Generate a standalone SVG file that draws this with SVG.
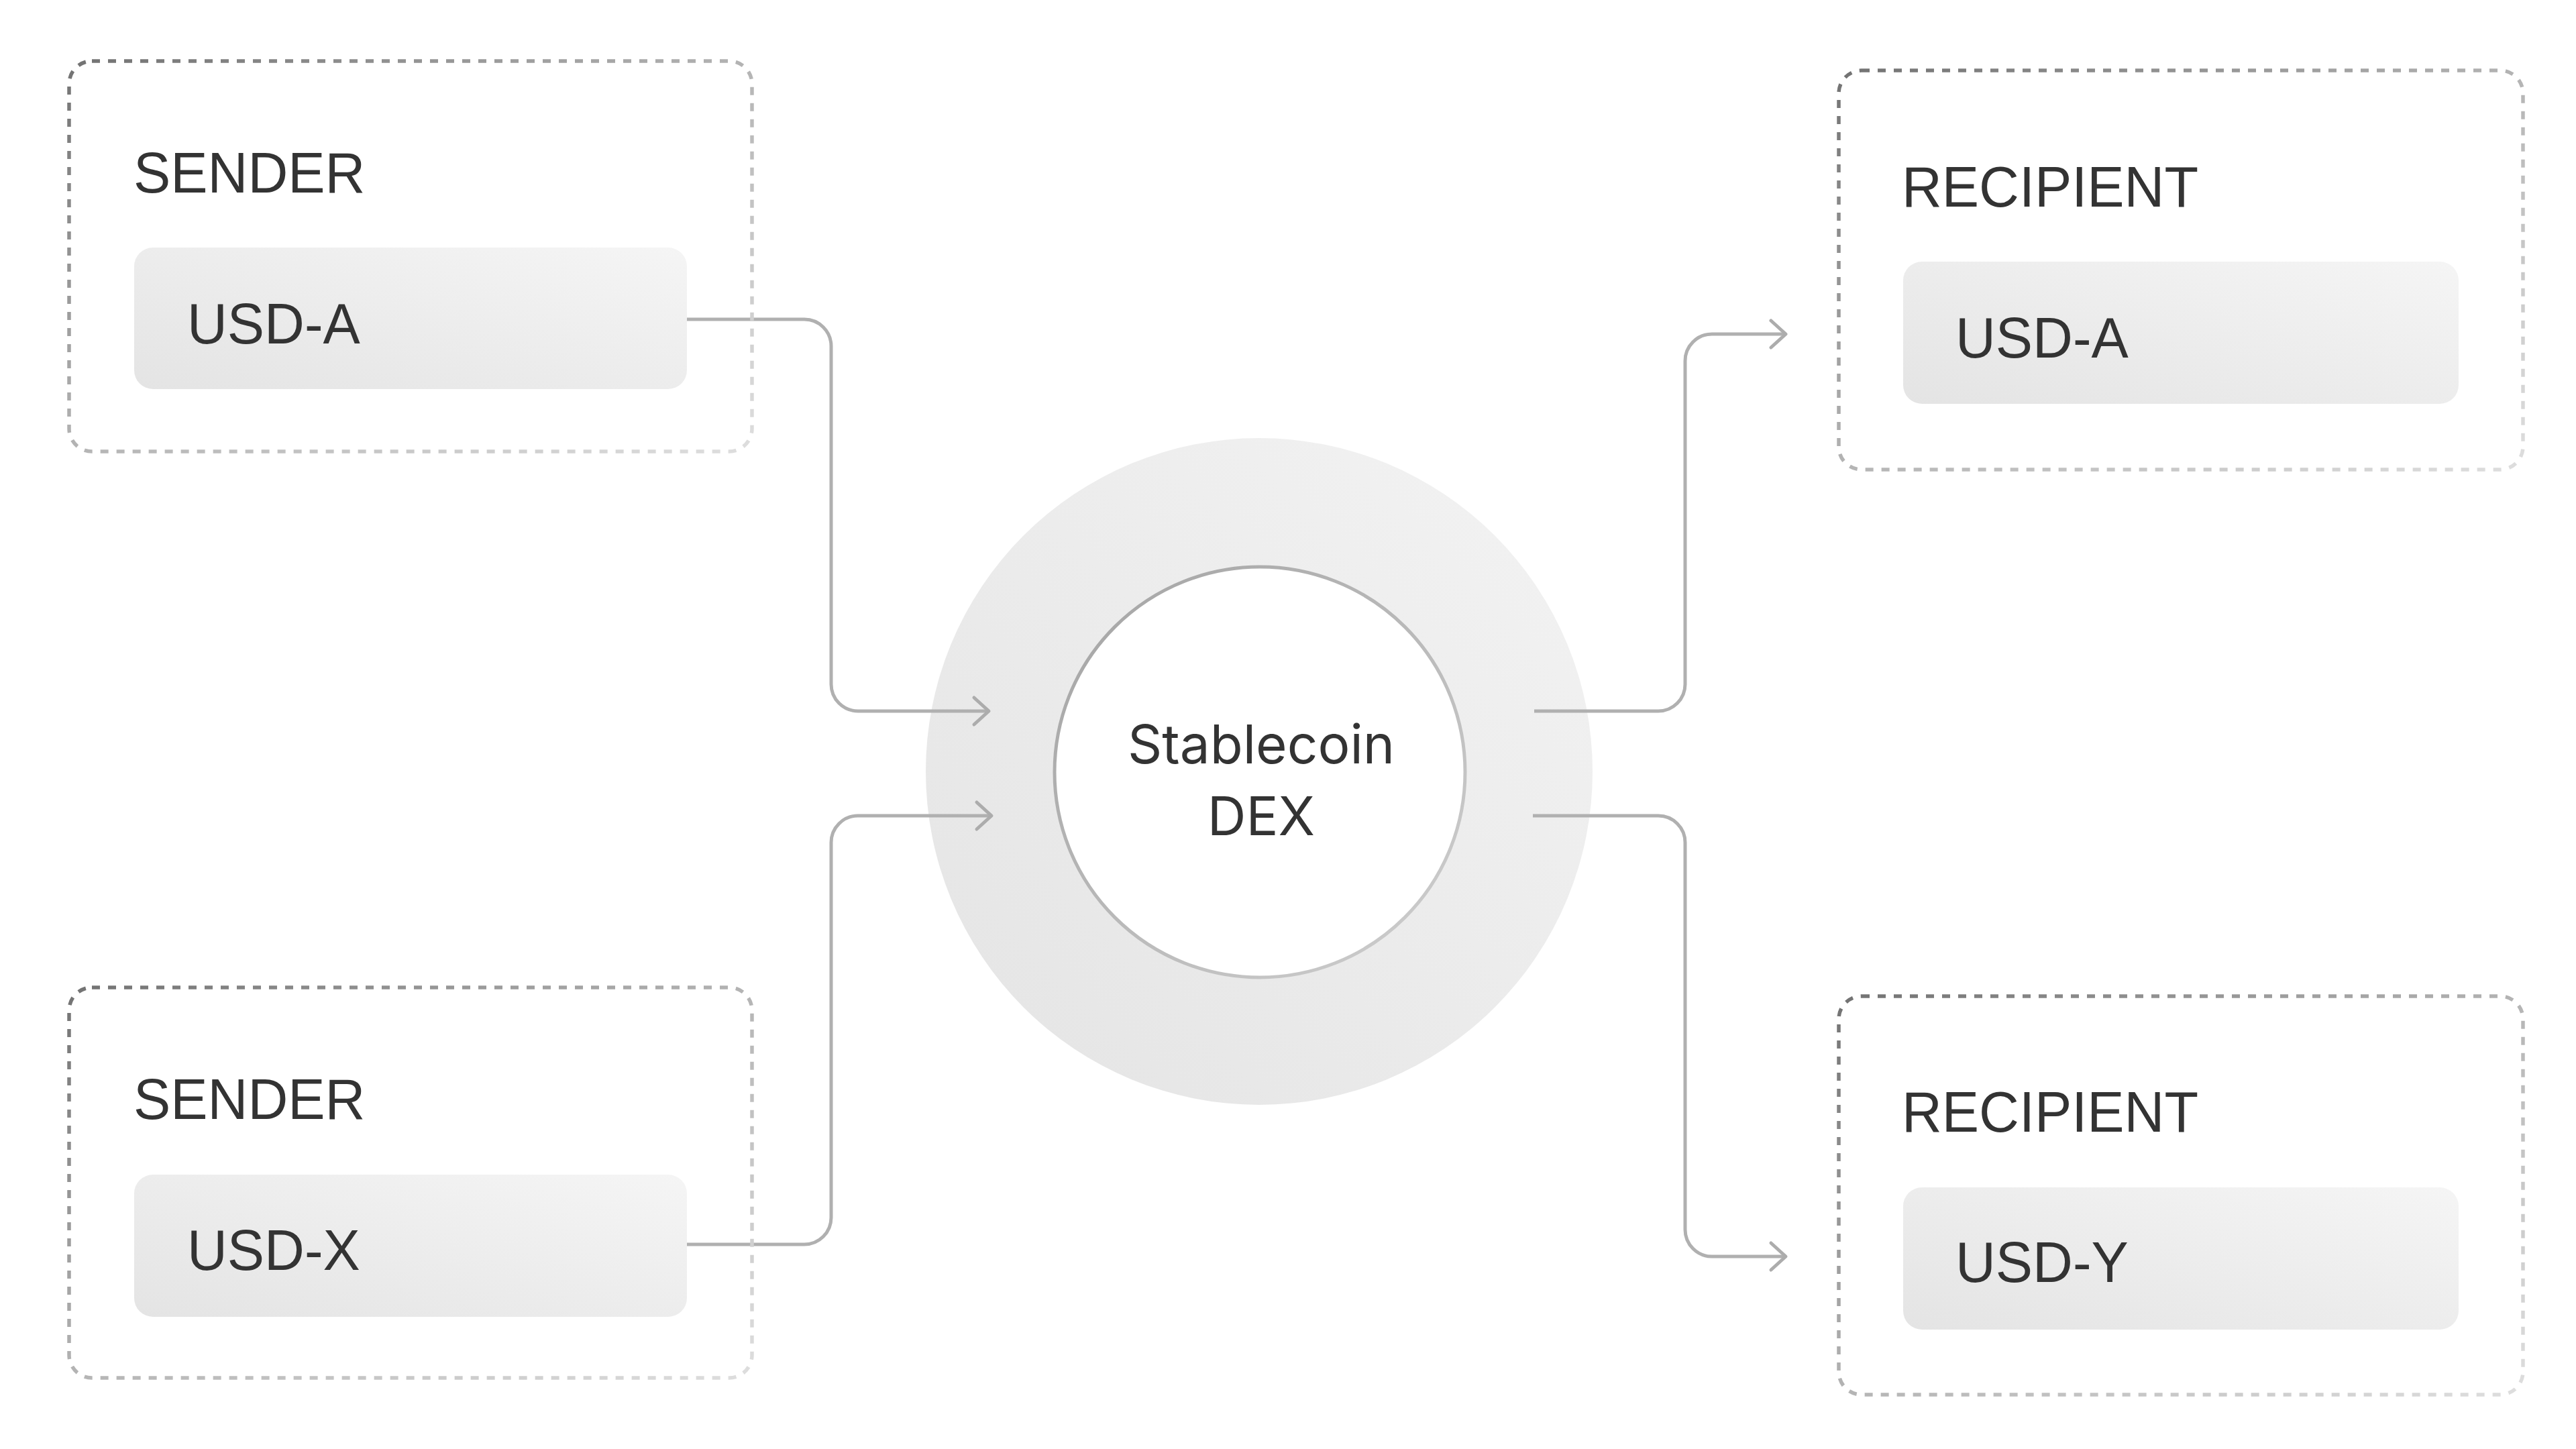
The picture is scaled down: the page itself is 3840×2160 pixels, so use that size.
<svg xmlns="http://www.w3.org/2000/svg" width="3840" height="2160" viewBox="0 0 3840 2160">
<defs>
<linearGradient id="dash" x1="0" y1="0" x2="1" y2="1">
<stop offset="0" stop-color="#727272"/>
<stop offset="0.5" stop-color="#b4b4b4"/>
<stop offset="1" stop-color="#dedede"/>
</linearGradient>
<linearGradient id="pill" x1="0" y1="1" x2="1" y2="0">
<stop offset="0" stop-color="#e4e4e4"/>
<stop offset="1" stop-color="#f5f5f5"/>
</linearGradient>
<linearGradient id="ring" x1="0" y1="1" x2="1" y2="0">
<stop offset="0" stop-color="#e4e4e4"/>
<stop offset="1" stop-color="#f3f3f3"/>
</linearGradient>
<linearGradient id="ringStroke" x1="0" y1="0" x2="1" y2="1">
<stop offset="0" stop-color="#a3a3a3"/>
<stop offset="1" stop-color="#cfcfcf"/>
</linearGradient>
<marker id="arrow" viewBox="-30 -30 40 60" markerWidth="40" markerHeight="60" refX="0" refY="0" orient="auto" markerUnits="userSpaceOnUse" overflow="visible">
<path d="M-22,-20 L0,0 L-22,20" fill="none" stroke="#acacac" stroke-width="5" stroke-linecap="round" stroke-linejoin="round"/>
</marker>
</defs>
<style>
.box{fill:none;stroke:url(#dash);stroke-width:5.5;stroke-dasharray:12 12;}
.pill{fill:url(#pill);}
.lbl{font-family:"Liberation Sans",Arial,sans-serif;font-size:85px;fill:#333333;}
.dex{font-family:Inter,"Liberation Sans",sans-serif;font-size:80px;fill:#333333;text-anchor:middle;}
.conn{fill:none;stroke:#b0b0b0;stroke-width:5;stroke-linejoin:round;}
.arr{marker-end:url(#arrow);}
</style>
<rect width="3840" height="2160" fill="#ffffff"/>

<g id="dex">
<circle cx="1877" cy="1150" r="497" fill="url(#ring)"/>
<circle cx="1878" cy="1151" r="306" fill="#ffffff" stroke="url(#ringStroke)" stroke-width="5"/>
<text class="dex" x="1880" y="1138">Stablecoin</text>
<text class="dex" x="1880" y="1245">DEX</text>
</g>

<g id="connectors">
<path class="conn arr" d="M1024,476 H1199 A40,40 0 0 1 1239,516 V1020 A40,40 0 0 0 1279,1060 H1474"/>
<path class="conn arr" d="M1024,1855 H1199 A40,40 0 0 0 1239,1815 V1256 A40,40 0 0 1 1279,1216 H1478"/>
<path class="conn arr" d="M2287,1060 H2472 A40,40 0 0 0 2512,1020 V538 A40,40 0 0 1 2552,498 H2662"/>
<path class="conn arr" d="M2285,1216 H2472 A40,40 0 0 1 2512,1256 V1833 A40,40 0 0 0 2552,1873 H2662"/>
</g>

<g id="sender-a">
<rect class="box" x="103" y="91" width="1018" height="582" rx="34"/>
<text class="lbl" transform="translate(199,287) scale(0.975,1)">SENDER</text>
<rect class="pill" x="200" y="369" width="824" height="211" rx="28"/>
<text class="lbl" transform="translate(279,512) scale(0.975,1)">USD-A</text>
</g>

<g id="sender-x">
<rect class="box" x="103" y="1472" width="1018" height="582" rx="34"/>
<text class="lbl" transform="translate(199,1668) scale(0.975,1)">SENDER</text>
<rect class="pill" x="200" y="1751" width="824" height="212" rx="28"/>
<text class="lbl" transform="translate(279,1893) scale(0.975,1)">USD-X</text>
</g>

<g id="recipient-a">
<rect class="box" x="2741" y="105" width="1020" height="595" rx="34"/>
<text class="lbl" transform="translate(2835,308) scale(0.975,1)">RECIPIENT</text>
<rect class="pill" x="2837" y="390" width="828" height="212" rx="28"/>
<text class="lbl" transform="translate(2915,533) scale(0.975,1)">USD-A</text>
</g>

<g id="recipient-y">
<rect class="box" x="2741" y="1485" width="1020" height="594" rx="34"/>
<text class="lbl" transform="translate(2835,1687) scale(0.975,1)">RECIPIENT</text>
<rect class="pill" x="2837" y="1770" width="828" height="212" rx="28"/>
<text class="lbl" transform="translate(2915,1911) scale(0.975,1)">USD-Y</text>
</g>
</svg>
